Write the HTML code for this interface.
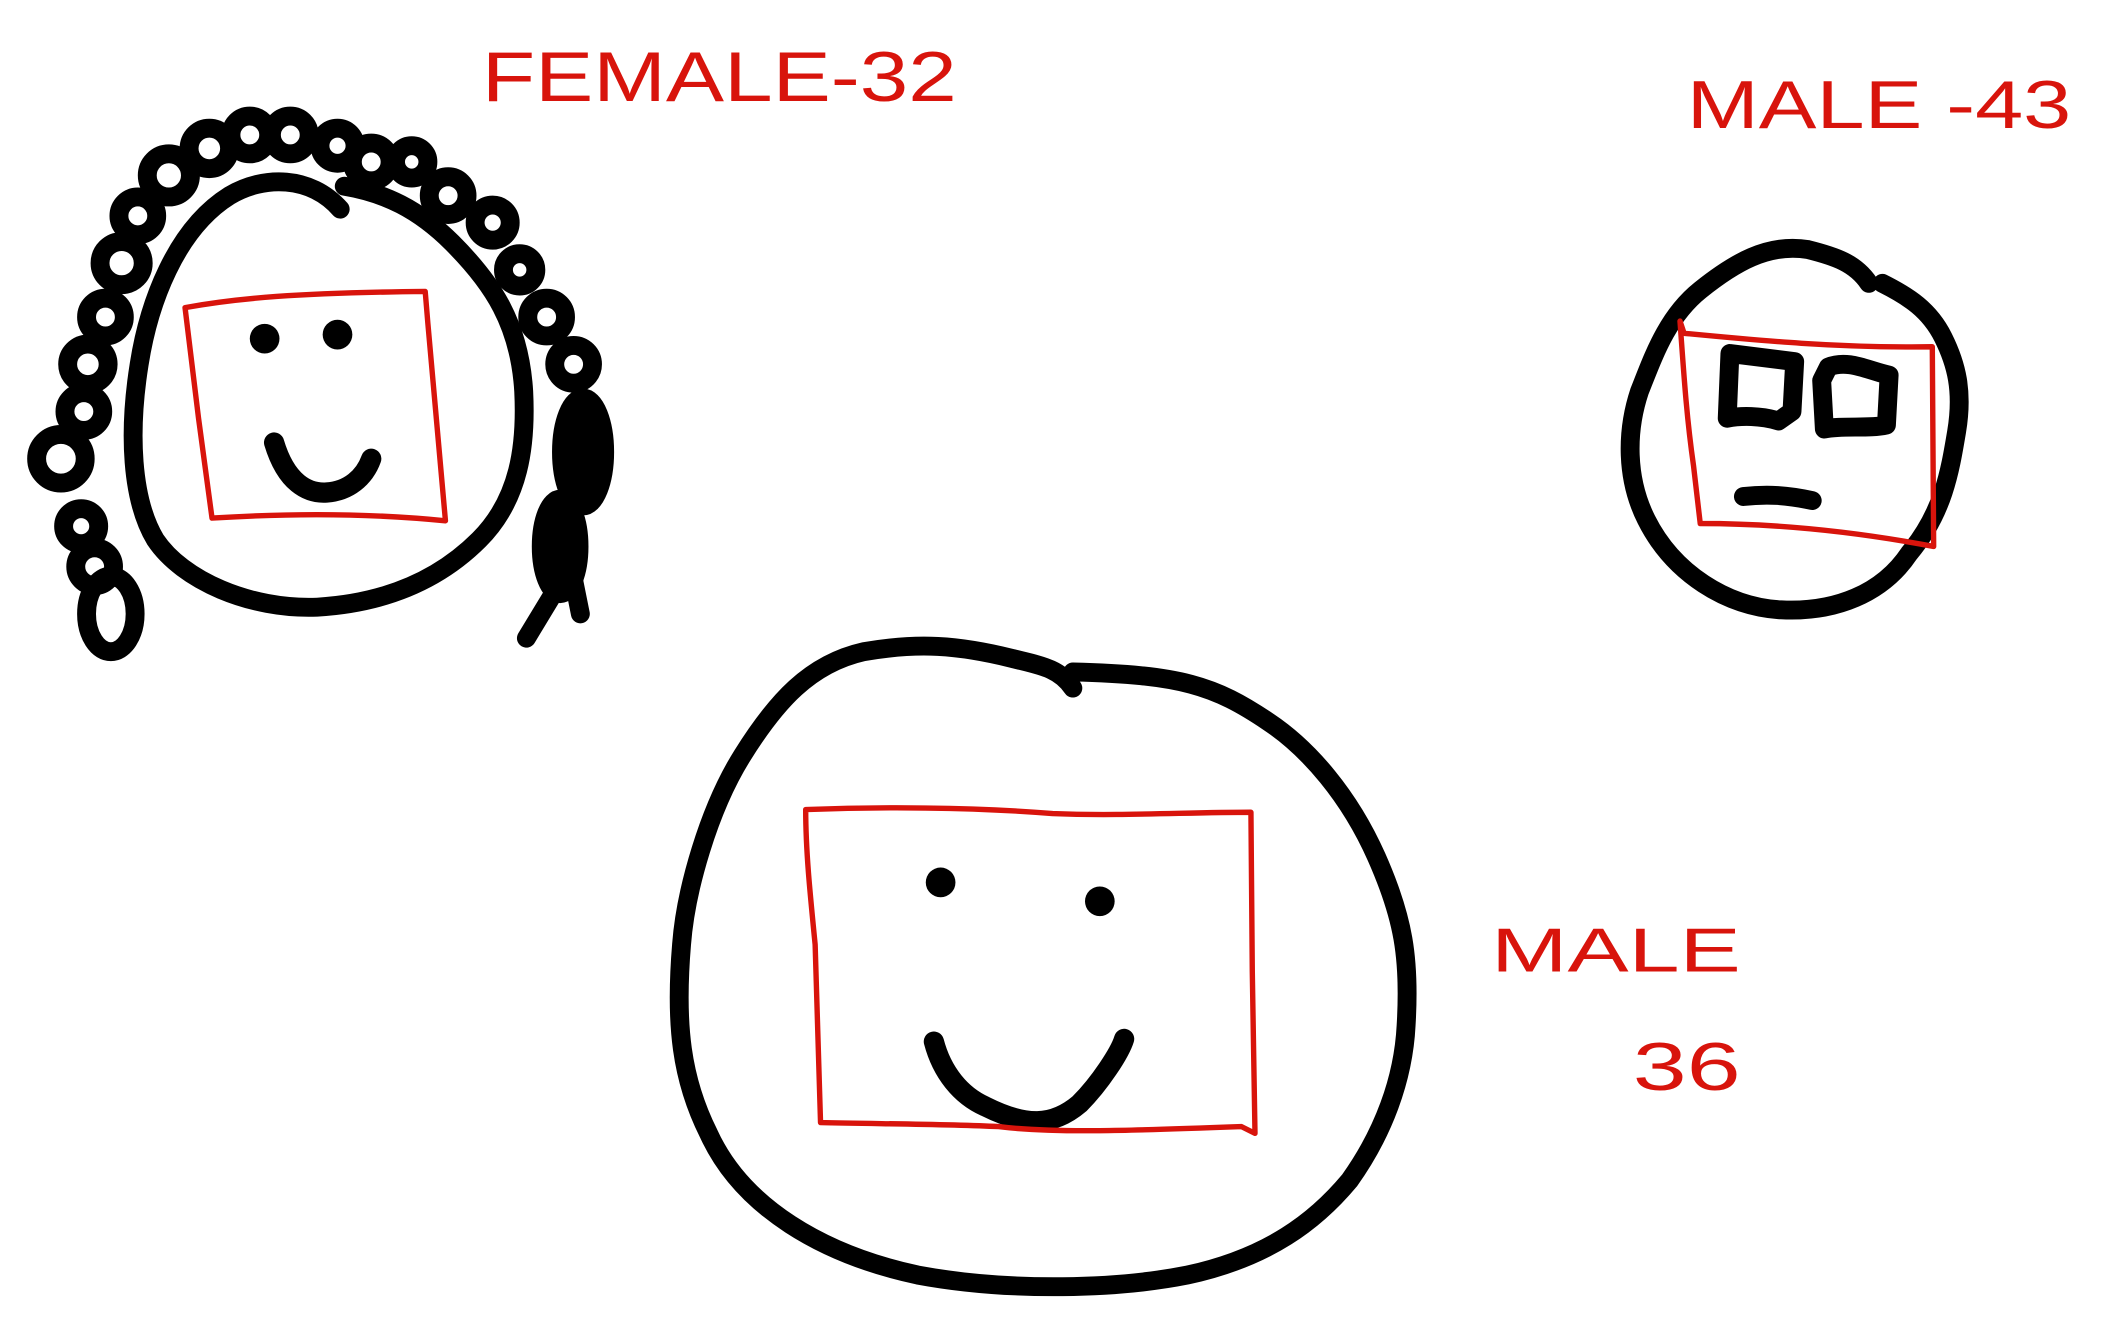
<!DOCTYPE html>
<html><head><meta charset="utf-8"><style>
html,body{margin:0;padding:0;background:#fff;}
svg{display:block;}
text{font-family:"Liberation Sans",sans-serif;fill:#d8140c;}
</style></head><body>
<svg width="2116" height="1329" viewBox="0 0 1568 985" xmlns="http://www.w3.org/2000/svg">
<rect width="1568" height="985" fill="#fff"/>
<g fill="none" stroke="#000" stroke-linecap="round" stroke-linejoin="round">
 <g stroke-width="14">
  <ellipse cx="82" cy="455" rx="18" ry="28"/><circle cx="70" cy="420" r="14"/><circle cx="60" cy="390" r="13"/>
  <circle cx="45" cy="340" r="18"/><circle cx="62" cy="305" r="14"/><circle cx="65" cy="270" r="15"/>
  <circle cx="78" cy="235" r="14"/><circle cx="90" cy="195" r="16"/><circle cx="102" cy="160" r="14"/>
  <circle cx="125" cy="130" r="16"/><circle cx="155" cy="110" r="15"/><circle cx="185" cy="100" r="14"/>
  <circle cx="215" cy="100" r="14"/><circle cx="250" cy="108" r="13"/><circle cx="275" cy="120" r="14"/>
  <circle cx="305" cy="120" r="12"/><circle cx="332" cy="145" r="14"/><circle cx="365" cy="165" r="13"/>
  <circle cx="385" cy="200" r="12"/><circle cx="405" cy="235" r="14"/><circle cx="425" cy="270" r="14"/>
  <ellipse cx="432" cy="335" rx="16" ry="40" fill="#000"/><ellipse cx="415" cy="405" rx="14" ry="35" fill="#000"/>
  <path d="M425 430 L430 455 M410 440 L390 473"/>
 </g>
 <path stroke-width="14" d="M252 155 C230 130 195 130 170 145 C130 170 110 225 103 270 C95 320 97 370 115 400 C135 430 185 452 235 450 C285 447 325 430 355 400 C385 370 390 330 388 290 C385 240 365 210 335 180 C310 155 285 143 255 138"/>
 <circle cx="196" cy="251" r="11" fill="#000" stroke="none"/>
 <circle cx="250" cy="248" r="11" fill="#000" stroke="none"/>
 <path stroke-width="15" d="M203 328 C212 358 228 366 242 365 C258 364 270 354 275 340"/>
 <path stroke="#d8140c" stroke-width="4" d="M137 228 C175 221 220 217 315 216 L317 240 L330 386 C280 381 220 380 157 384 L147 310 Z"/>
</g>
<g fill="none" stroke="#000" stroke-linecap="round" stroke-linejoin="round">
 <path stroke-width="14" d="M795 510 C785 495 770 493 750 488 C710 478 680 476 640 483 C600 492 575 520 550 560 C525 600 508 660 505 700 C500 760 505 800 525 840 C550 895 610 930 680 945 C750 958 830 955 880 945 C940 932 975 905 1000 875 C1025 840 1040 800 1042 760 C1045 710 1040 680 1020 635 C1000 590 970 555 940 535 C900 508 875 500 795 498"/>
 <circle cx="697" cy="654" r="11" fill="#000" stroke="none"/>
 <circle cx="815" cy="668" r="11" fill="#000" stroke="none"/>
 <path stroke-width="15" d="M692 772 C698 795 712 812 730 820 C760 835 780 835 800 818 C815 803 830 780 833 770"/>
 <path stroke="#d8140c" stroke-width="4" d="M597 600 C650 598 720 598 780 603 C830 605 880 602 927 602 L928 720 L930 840 L920 835 C840 838 780 840 740 835 C700 833 650 833 608 832 L604 700 C600 660 597 630 597 600 Z"/>
</g>
<g fill="none" stroke="#000" stroke-linecap="round" stroke-linejoin="round">
 <path stroke-width="14" d="M1385 210 C1375 195 1360 190 1340 185 C1310 180 1285 195 1260 215 C1235 235 1225 265 1215 290 C1205 320 1205 355 1220 385 C1240 425 1280 450 1320 452 C1360 454 1395 440 1415 410 C1440 380 1445 350 1450 320 C1455 290 1450 270 1440 250 C1430 230 1415 220 1395 210"/>
 <path stroke-width="14" d="M1282 262 L1330 268 L1328 305 L1318 312 C1305 308 1290 308 1280 310 Z"/>
 <path stroke-width="14" d="M1355 272 C1370 266 1385 275 1400 278 L1398 315 C1385 318 1365 315 1352 318 L1350 282 Z"/>
 <path stroke-width="14" d="M1292 368 C1310 366 1325 367 1343 371"/>
 <path stroke="#d8140c" stroke-width="4" d="M1245 238 L1248 247 C1300 252 1360 258 1432 257 L1433 405 C1380 395 1320 388 1260 388 L1255 345 C1250 310 1248 280 1245 238 Z"/>
</g>
<text x="357" y="75" font-size="52" textLength="352" lengthAdjust="spacingAndGlyphs">FEMALE-32</text>
<text x="1250" y="95" font-size="50" textLength="285" lengthAdjust="spacingAndGlyphs">MALE -43</text>
<text x="1105" y="720" font-size="46" textLength="185" lengthAdjust="spacingAndGlyphs">MALE</text>
<text x="1210" y="808" font-size="50" textLength="80" lengthAdjust="spacingAndGlyphs">36</text>
</svg>
</body></html>
